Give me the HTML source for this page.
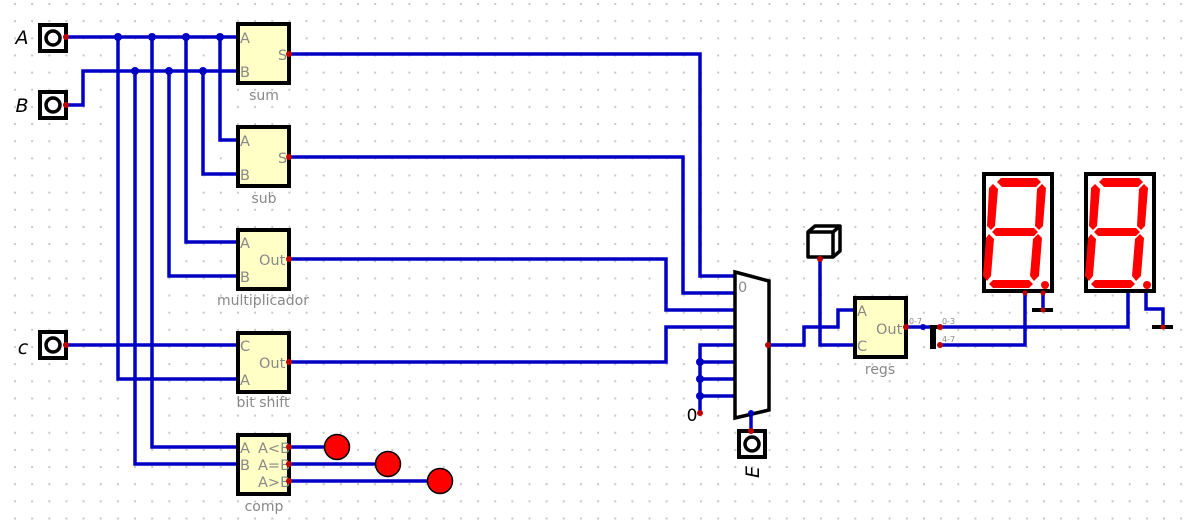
<!DOCTYPE html>
<html><head><meta charset="utf-8"><style>
html,body{margin:0;padding:0;background:#fff;}
svg{display:block;}
.w{stroke:#0000c4;stroke-width:3.5;fill:none;stroke-linecap:square;}
.j{fill:#0000c4;}
.r{fill:#c00000;}
.box{fill:#ffffc6;stroke:#000;stroke-width:4;}
.pl{font-family:"DejaVu Sans","Liberation Sans",sans-serif;font-size:14.5px;fill:#888;}
.lb{font-family:"DejaVu Sans","Liberation Sans",sans-serif;font-size:14px;fill:#888;text-anchor:middle;}
.sm{font-family:"DejaVu Sans","Liberation Sans",sans-serif;font-size:8px;fill:#888;}
.in{font-family:"DejaVu Sans","Liberation Sans",sans-serif;font-size:19px;font-style:italic;fill:#000;text-anchor:middle;}
.seg{fill:#ff0000;}
</style></head><body>
<svg width="1195" height="527" viewBox="0 0 1195 527" xmlns="http://www.w3.org/2000/svg">
<defs><pattern id="grid" x="14" y="3" width="17.15" height="17.15" patternUnits="userSpaceOnUse"><rect x="0" y="0" width="2" height="2" fill="#c8c8c8"/></pattern>
<g id="segs">
<polygon class="seg" points="997,182 1001,178 1037,178 1041,182 1036,187 1002,187"/>
<polygon class="seg" points="1042,184 1046,188 1043,226 1039,230 1035,226 1037,189"/>
<polygon class="seg" points="993,184 998,189 995,226 991,230 987,226 989,188"/>
<polygon class="seg" points="992,232 996,228 1034,228 1038,232 1034,236 996,236"/>
<polygon class="seg" points="1038,234 1042,238 1039,276 1034,281 1030,276 1033,239"/>
<polygon class="seg" points="989,234 994,239 991,276 987,281 983,276 986,238"/>
<polygon class="seg" points="989,284 993,280 1029,280 1033,284 1029,288 993,288"/>
<circle class="seg" cx="1045" cy="285" r="4"/>
</g></defs>
<rect width="1195" height="527" fill="url(#grid)"/>

<g>
<path class="w" d="M66 37H238"/>
<path class="w" d="M66 105H83V71H238"/>
<path class="w" d="M118 37V379H238"/>
<path class="w" d="M135 71V464H238"/>
<path class="w" d="M152 37V447H238"/>
<path class="w" d="M169 71V276H238"/>
<path class="w" d="M186 37V242H238"/>
<path class="w" d="M203 71V174H238"/>
<path class="w" d="M220 37V140H238"/>
<path class="w" d="M66 345H238"/>
<path class="w" d="M289 54H700V276H735"/>
<path class="w" d="M289 157H683V293H735"/>
<path class="w" d="M289 259H666V310H735"/>
<path class="w" d="M289 362H666V327H735"/>
<path class="w" d="M700 413V345H735M700 362H735M700 379H735M700 396H735"/>
<path class="w" d="M768 345H804V327H838V310H855"/>
<path class="w" d="M820 259V345H855"/>
<path class="w" d="M751 412V430"/>
<path class="w" d="M906 327H932"/>
<path class="w" d="M940 327H1128V293"/>
<path class="w" d="M940 345H1025V293"/>
<path class="w" d="M1043 293V310"/>
<path class="w" d="M1146 293V309H1163V327"/>
<path class="w" d="M289 447H337M289 464H388M289 481H440"/>
</g>
<g>
<circle class="j" cx="118" cy="37" r="4"/><circle class="j" cx="152" cy="37" r="4"/><circle class="j" cx="186" cy="37" r="4"/><circle class="j" cx="220" cy="37" r="4"/>
<circle class="j" cx="135" cy="71" r="4"/><circle class="j" cx="169" cy="71" r="4"/><circle class="j" cx="203" cy="71" r="4"/>
<circle class="j" cx="700" cy="362" r="4"/><circle class="j" cx="700" cy="379" r="4"/><circle class="j" cx="700" cy="396" r="4"/>
<circle class="j" cx="923" cy="327" r="3"/>
</g>

<g>
<text class="in" x="22" y="44">A</text>
<rect x="40" y="25" width="26" height="26" fill="#fff" stroke="#000" stroke-width="4"/><circle cx="53" cy="38" r="7" fill="none" stroke="#000" stroke-width="3.5"/><circle class="r" cx="66" cy="37" r="3"/>
</g>
<g>
<text class="in" x="22" y="112">B</text>
<rect x="40" y="92" width="26" height="26" fill="#fff" stroke="#000" stroke-width="4"/><circle cx="53" cy="105" r="7" fill="none" stroke="#000" stroke-width="3.5"/><circle class="r" cx="66" cy="105" r="3"/>
</g>
<g>
<text class="in" x="23" y="354">c</text>
<rect x="40" y="332" width="26" height="26" fill="#fff" stroke="#000" stroke-width="4"/><circle cx="53" cy="345" r="7" fill="none" stroke="#000" stroke-width="3.5"/><circle class="r" cx="66" cy="345" r="3"/>
</g>

<g>
<rect class="box" x="238" y="24" width="51" height="59"/>
<text class="pl" x="240" y="43">A</text><text class="pl" x="240" y="77">B</text><text class="pl" x="278" y="60">S</text>
<circle class="r" cx="289" cy="54" r="3"/><text class="lb" x="264" y="100">sum</text>
</g>
<g>
<rect class="box" x="238" y="127" width="51" height="59"/>
<text class="pl" x="240" y="146">A</text><text class="pl" x="240" y="180">B</text><text class="pl" x="278" y="163">S</text>
<circle class="r" cx="289" cy="157" r="3"/><text class="lb" x="264" y="203">sub</text>
</g>
<g>
<rect class="box" x="238" y="230" width="51" height="59"/>
<text class="pl" x="240" y="248">A</text><text class="pl" x="240" y="282">B</text><text class="pl" x="259" y="265">Out</text>
<circle class="r" cx="289" cy="259" r="3"/><text class="lb" x="263" y="305">multiplicador</text>
</g>
<g>
<rect class="box" x="238" y="333" width="51" height="59"/>
<text class="pl" x="240" y="351">C</text><text class="pl" x="240" y="385">A</text><text class="pl" x="259" y="368">Out</text>
<circle class="r" cx="289" cy="362" r="3"/><text class="lb" x="263" y="407">bit  shift</text>
</g>
<g>
<rect class="box" x="238" y="435" width="51" height="59"/>
<text class="pl" x="240" y="453">A</text><text class="pl" x="240" y="470">B</text>
<text class="pl" x="258" y="453">A&lt;B</text><text class="pl" x="258" y="470">A=B</text><text class="pl" x="258" y="487">A&gt;B</text>
<circle class="r" cx="289" cy="447" r="3"/><circle class="r" cx="289" cy="464" r="3"/><circle class="r" cx="289" cy="481" r="3"/>
<text class="lb" x="264" y="511">comp</text>
</g>
<g><circle cx="337" cy="447" r="12.5" fill="#f00" stroke="#000" stroke-width="1.5"/></g>
<g><circle cx="388" cy="464" r="12.5" fill="#f00" stroke="#000" stroke-width="1.5"/></g>
<g><circle cx="440" cy="481" r="12.5" fill="#f00" stroke="#000" stroke-width="1.5"/></g>

<g>
<polygon points="735,272 769,281 769,410 735,418" fill="#fff" stroke="#000" stroke-width="3.5"/>
<text class="pl" x="738" y="292">0</text>
<circle class="r" cx="768" cy="345" r="3"/>
<circle class="j" cx="751" cy="413" r="3"/>
</g>
<g>
<text x="692" y="421" font-family="DejaVu Sans, Liberation Sans, sans-serif" font-size="17" text-anchor="middle">0</text>
<circle class="r" cx="700" cy="413" r="3"/>
</g>
<g>
<rect x="739" y="431" width="26" height="26" fill="#fff" stroke="#000" stroke-width="4"/><circle cx="752" cy="444" r="7" fill="none" stroke="#000" stroke-width="3.5"/><circle class="r" cx="751" cy="431" r="3"/>
<text class="in" transform="translate(752 472) rotate(-90)" x="0" y="7">E</text>
</g>
<g>
<path d="M808 257V232L815 226H840V251L833 257Z M808 232H833V257 M833 232L840 226" fill="#fff" stroke="#000" stroke-width="3.5" stroke-linejoin="round"/>
<circle class="r" cx="820" cy="259" r="3"/>
</g>
<g>
<rect class="box" x="855" y="298" width="51" height="59"/>
<text class="pl" x="857" y="316">A</text><text class="pl" x="857" y="351">C</text><text class="pl" x="876" y="334">Out</text>
<circle class="r" cx="906" cy="327" r="3"/><text class="lb" x="880" y="374">regs</text>
</g>
<g>
<text class="sm" x="909" y="324">0-7</text>
<rect x="930" y="325" width="6" height="24" fill="#000"/><rect x="930" y="325" width="10" height="4" fill="#000"/>
<circle class="r" cx="940" cy="327" r="3"/><circle class="r" cx="940" cy="345" r="3"/>
<text class="sm" x="942" y="324">0-3</text><text class="sm" x="942" y="342">4-7</text>
</g>

<g>
<rect x="984" y="174" width="68" height="117" fill="#fff" stroke="#000" stroke-width="4"/>
<use href="#segs"/>
<circle class="r" cx="1025" cy="293" r="2.5"/><circle class="r" cx="1043" cy="293" r="2.5"/>
</g>
<g transform="translate(102 0)">
<rect x="984" y="174" width="68" height="117" fill="#fff" stroke="#000" stroke-width="4"/>
<use href="#segs"/>
</g>
<g><rect x="1032" y="308" width="21" height="4" fill="#000"/><circle class="r" cx="1043" cy="310" r="2.5"/></g>
<g><rect x="1152" y="325" width="21" height="4" fill="#000"/><circle class="r" cx="1163" cy="327" r="2.5"/></g>
</svg>
</body></html>
